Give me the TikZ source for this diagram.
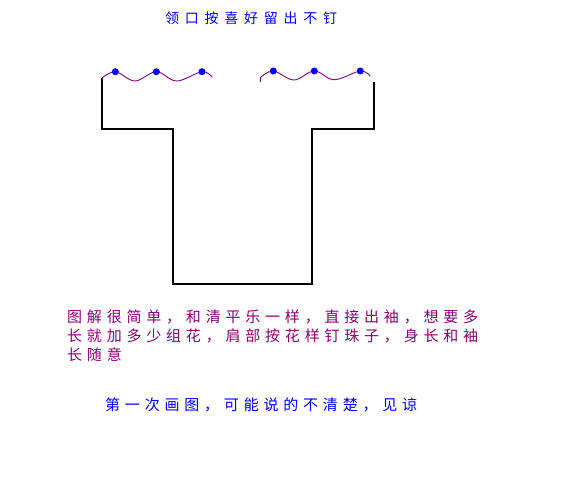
\documentclass[tikz,border=0pt]{standalone}
\usepackage{fontspec}
\newfontfamily\cjk{Noto Sans CJK SC}
\usetikzlibrary{calc}
\definecolor{wavec}{RGB}{128,0,128}
\definecolor{bodyc}{RGB}{135,0,110}
\definecolor{bluec}{RGB}{0,0,255}
\begin{document}
\begin{tikzpicture}[x=1pt,y=-1pt,
  outline/.style={draw=black,line width=1.2pt},
  wave/.style={draw=wavec,line width=0.9pt},
  bead/.style={circle,fill=bluec,inner sep=0pt,minimum size=7pt},
  txt/.style={anchor=west,inner sep=0pt,align=left},
  titlefont/.style={font=\cjk\addfontfeature{LetterSpace=41}\fontsize{14}{16}\selectfont},
  bodyfont/.style={font=\cjk\addfontfeature{LetterSpace=32}\fontsize{15}{19}\selectfont}]
\useasboundingbox (0,0) rectangle (566,503);
% body outline
\draw[outline] (102,78) -- (102,129) -- (173,129) -- (173,284) -- (312,284) -- (312,129) -- (374,129) -- (374,82);
% waves
\draw[wave] plot[smooth,tension=0.6] coordinates {(102,78) (115.3,71.7) (135,81) (156.3,71.7) (176.7,81) (202,71.7) (212.3,77.3)};
\draw[wave] (260.3,82) -- (260.3,77.7);
\draw[wave] plot[smooth,tension=0.6] coordinates {(260.3,77.7) (273.3,71) (294,80) (314.3,71) (334.3,79.7) (360.3,71) (370.3,76.3)};
% beads
\foreach \p [count=\i] in {(115.3,71.7),(156.3,71.7),(202,71.7),(273.3,71),(314.3,71),(360.3,71)}
  \node[bead] (b\i) at \p {};
% texts
\node[txt,text=bluec,titlefont] (title) at (165,18) {领口按喜好留出不钉};
\node[txt,text=bodyc,bodyfont] (body) at (67,335.5) {图解很简单，和清平乐一样，直接出袖，想要多\\长就加多少组花，肩部按花样钉珠子，身长和袖\\长随意};
\node[txt,text=bluec,bodyfont] (note) at (105,405) {第一次画图，可能说的不清楚，见谅};
\end{tikzpicture}
\end{document}
